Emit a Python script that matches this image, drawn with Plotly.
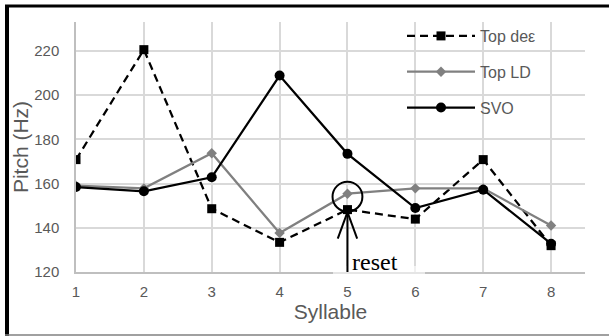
import plotly.graph_objects as go

# ---- data ----
syllables = [1, 2, 3, 4, 5, 6, 7, 8]
top_de = [170.8, 220.5, 148.6, 133.4, 148.2, 143.9, 170.8, 131.9]
top_ld = [159.0, 157.8, 173.7, 137.6, 155.4, 157.8, 157.8, 141.0]
svo = [158.4, 156.5, 162.8, 208.8, 173.4, 148.9, 157.2, 132.8]
y_ticks = [120, 140, 160, 180, 200, 220]

W, H = 609, 336
ML, MR, MT, MB = 76, 24, 22, 64
PW, PH = W - ML - MR, H - MT - MB


def px(x):
    return (x - ML) / PW


def py(y):
    return (H - MB - y) / PH


GRAY_TXT = "#595959"
FONT = "Liberation Sans"

fig = go.Figure()
fig.add_trace(go.Scatter(
    x=syllables, y=top_de, name="Top deε", mode="lines+markers",
    line=dict(color="black", width=2.25, dash="8px,5px"),
    marker=dict(symbol="square", size=9, color="black"),
    legendgroup="a"))
fig.add_trace(go.Scatter(
    x=syllables, y=top_ld, name="Top LD", mode="lines+markers",
    line=dict(color="#808080", width=2.25),
    marker=dict(symbol="diamond", size=8, color="#808080"),
    legendgroup="b"))
fig.add_trace(go.Scatter(
    x=syllables, y=svo, name="SVO", mode="lines+markers",
    line=dict(color="black", width=2.25),
    marker=dict(symbol="circle", size=10, color="black"),
    legendgroup="c"))

# annotation geometry (reset marker around syllable 5)
RESET_X = 5
shapes = [
    # white box behind legend (covers gridlines)
    dict(type="rect", xref="paper", yref="paper", x0=px(348), x1=1.0, y0=py(125), y1=1.0,
         fillcolor="white", line=dict(width=0), layer="between"),
    # light box behind "reset" label partly hiding the axis line
    dict(type="rect", xref="paper", yref="paper", x0=px(333), x1=px(425), y0=py(274), y1=py(266),
         fillcolor="rgba(255,255,255,0.6)", line=dict(width=0), layer="above"),
    # circle
    dict(type="circle", xref="x", yref="y", x0=RESET_X - 0.22, x1=RESET_X + 0.22,
         y0=147.3, y1=160.8, line=dict(color="black", width=2)),
    # arrow shaft + head
    dict(type="line", xref="x", yref="y", x0=RESET_X, x1=RESET_X, y0=120, y1=147.1,
         line=dict(color="black", width=2)),
    dict(type="line", xref="x", yref="y", x0=RESET_X - 0.143, x1=RESET_X, y0=135.1, y1=147.1,
         line=dict(color="black", width=2)),
    dict(type="line", xref="x", yref="y", x0=RESET_X + 0.143, x1=RESET_X, y0=135.1, y1=147.1,
         line=dict(color="black", width=2)),
    # outer border pieces
    dict(type="line", xref="paper", yref="paper", x0=px(5), x1=px(609), y0=py(6), y1=py(6),
         line=dict(color="black", width=3)),
    dict(type="line", xref="paper", yref="paper", x0=px(7), x1=px(7), y0=py(5), y1=py(336),
         line=dict(color="black", width=4)),
    dict(type="line", xref="paper", yref="paper", x0=px(5), x1=px(609), y0=py(335), y1=py(335),
         line=dict(color="#808080", width=1.5)),
]

fig.update_layout(
    width=W, height=H,
    margin=dict(l=ML, r=MR, t=MT, b=MB),
    paper_bgcolor="white", plot_bgcolor="white",
    font=dict(family=FONT, color=GRAY_TXT, size=15),
    shapes=shapes,
    showlegend=True,
    legend=dict(x=px(402), y=py(19), xanchor="left", yanchor="top",
                bgcolor="rgba(0,0,0,0)", font=dict(family=FONT, size=16, color=GRAY_TXT),
                traceorder="grouped", tracegroupgap=12, itemwidth=68),
    annotations=[dict(x=RESET_X, y=120, xref="x", yref="y", text="reset", showarrow=False,
                      xanchor="left", yanchor="bottom", xshift=3, yshift=-5,
                      font=dict(family="Liberation Serif", size=24, color="black"))],
)
fig.update_xaxes(range=[1, 8.5], tickmode="array", tickvals=syllables,
                 showgrid=True, gridcolor="#d9d9d9", gridwidth=1.5,
                 showline=True, linecolor="#bfbfbf", linewidth=1.5,
                 zeroline=False, ticks="", ticklabelstandoff=5,
                 tickfont=dict(family=FONT, size=15, color=GRAY_TXT),
                 title=dict(text="Syllable", font=dict(family=FONT, size=21, color=GRAY_TXT), standoff=6))
fig.update_yaxes(range=[120, 233], tickmode="array", tickvals=y_ticks,
                 showgrid=True, gridcolor="#d9d9d9", gridwidth=1.5,
                 showline=True, linecolor="#bfbfbf", linewidth=1.5,
                 zeroline=False, ticks="", ticklabelstandoff=12,
                 tickfont=dict(family=FONT, size=15, color=GRAY_TXT),
                 title=dict(text="Pitch (Hz)", font=dict(family=FONT, size=21, color=GRAY_TXT), standoff=0))

fig.write_html("out.html")
